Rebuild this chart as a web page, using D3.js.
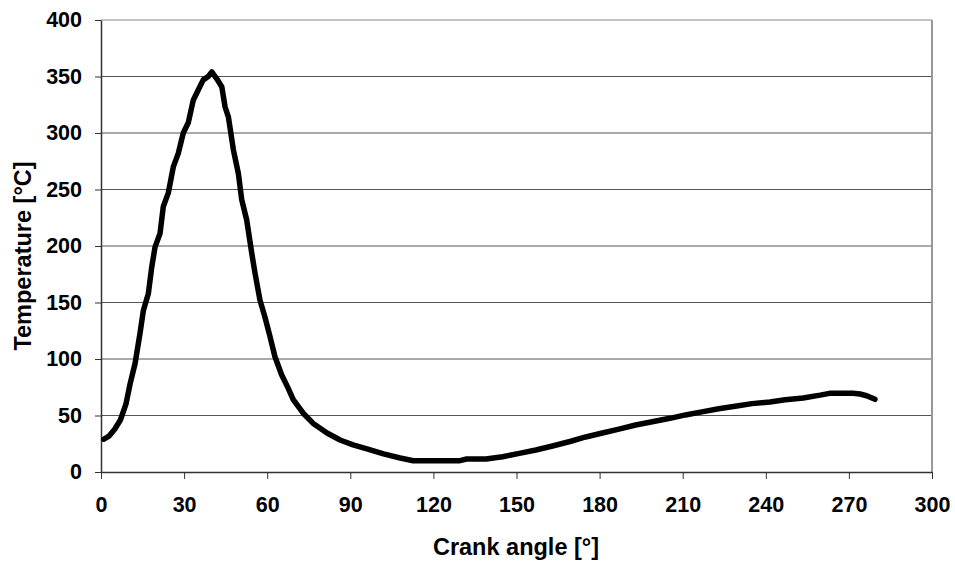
<!DOCTYPE html>
<html lang="en">
<head>
<meta charset="UTF-8">
<title>Temperature vs crank angle</title>
<script src="https://d3js.org/d3.v7.min.js"></script>
<style>
  body { margin: 0; background: #fff; }
  text { font-family: "Liberation Sans", Arial, sans-serif; font-weight: bold; }
</style>
</head>
<body>
<div id="chart"></div>
<script>
// values
const angle = [1, 3, 5, 7, 9, 10.5, 12.3, 14.1, 15.3, 17.1, 18.3, 19.5, 21.3, 22.5, 24.3, 26.1, 27.9, 29.7,
  31.5, 33.3, 35.1, 36.9, 38.7, 40, 41.8, 43.6, 44.8, 46, 47.8, 49.6, 50.8, 52.6, 54.4, 55.6, 57.4, 59.2,
  61, 62.8, 65.2, 67.6, 69.4, 73, 76.6, 81.6, 86.3, 91, 96, 102, 108, 112.7, 120, 129.6, 132, 139, 145,
  151, 157, 163, 169.3, 175, 181, 187, 193, 199, 205.4, 211, 217.4, 223, 229.5, 235, 241.5, 247, 253.5,
  259.6, 263, 267, 271.5, 274, 276.4, 279.4];
const temperature = [29, 32, 38, 46, 60, 78, 96, 123, 143, 158, 181, 199, 211, 235, 247, 270, 282, 300,
  309, 329, 338, 347, 350, 354, 348, 341, 323, 314, 285, 264, 241, 223, 194, 176, 152, 137,
  120, 102, 86, 74, 64, 52, 43, 34.5, 28.3, 24, 20.4, 16, 12.4, 10, 10, 10, 11.5, 11.5, 13.5,
  16.5, 19.5, 23, 27, 31, 34.5, 38, 41.6, 44.5, 47.5, 50.5, 53.4, 56, 58.4, 60.5, 62, 64, 65.5,
  68, 69.6, 69.6, 69.6, 69, 67.5, 64.3];
const xTicks = [0, 30, 60, 90, 120, 150, 180, 210, 240, 270, 300];
const yTicks = [0, 50, 100, 150, 200, 250, 300, 350, 400];

const W = 955, H = 562;
const margin = {top: 20, right: 23, bottom: 90, left: 101};
const width = W - margin.left - margin.right,
      height = H - margin.top - margin.bottom;

const data = angle.map((a, i) => ({a: a, t: temperature[i]}));

const svg = d3.select("#chart").append("svg")
  .attr("width", W).attr("height", H);
const g = svg.append("g")
  .attr("transform", `translate(${margin.left},${margin.top})`);

const x = d3.scaleLinear().domain([0, 300]).range([0, width]);
const y = d3.scaleLinear().domain([0, 400]).range([height, 0]);

// horizontal gridlines
g.append("g")
  .selectAll("line")
  .data(yTicks.filter(d => d > 0))
  .join("line")
    .attr("x1", 0).attr("x2", width)
    .attr("y1", d => y(d)).attr("y2", d => y(d))
    .style("stroke", d => d === 400 ? "#888" : "#555")
    .style("stroke-width", 1);

// right border of the plot area
g.append("line")
  .attr("x1", width).attr("x2", width)
  .attr("y1", 0).attr("y2", height)
  .style("stroke", "#999").style("stroke-width", 2);

// x axis
const xAxis = g.append("g")
  .attr("transform", `translate(0,${height})`)
  .call(d3.axisBottom(x).tickValues(xTicks).tickSizeInner(7).tickSizeOuter(0).tickPadding(18));
xAxis.select(".domain").style("stroke", "#333").style("stroke-width", 1.5);
xAxis.selectAll(".tick line").style("stroke", "#333");
xAxis.selectAll("text").style("font-size", "21.5px").style("fill", "#000");

// y axis
const yAxis = g.append("g")
  .call(d3.axisLeft(y).tickValues(yTicks).tickSizeInner(6).tickSizeOuter(0).tickPadding(13));
yAxis.select(".domain").style("stroke", "#333").style("stroke-width", 1.5);
yAxis.selectAll(".tick line").style("stroke", "#333");
yAxis.selectAll("text").style("font-size", "21.5px").style("fill", "#000");

// the curve
g.append("path")
  .datum(data)
  .attr("d", d3.line().x(d => x(d.a)).y(d => y(d.t)))
  .style("fill", "none")
  .style("stroke", "#000")
  .style("stroke-width", 5.5)
  .style("stroke-linejoin", "round")
  .style("stroke-linecap", "round");

// axis titles
svg.append("text")
  .attr("x", 516)
  .attr("y", 555)
  .attr("text-anchor", "middle")
  .style("font-size", "23.5px")
  .text("Crank angle [°]");

svg.append("text")
  .attr("transform", "translate(31,256) rotate(-90)")
  .attr("text-anchor", "middle")
  .style("font-size", "23.5px")
  .text("Temperature [°C]");
</script>
</body>
</html>
